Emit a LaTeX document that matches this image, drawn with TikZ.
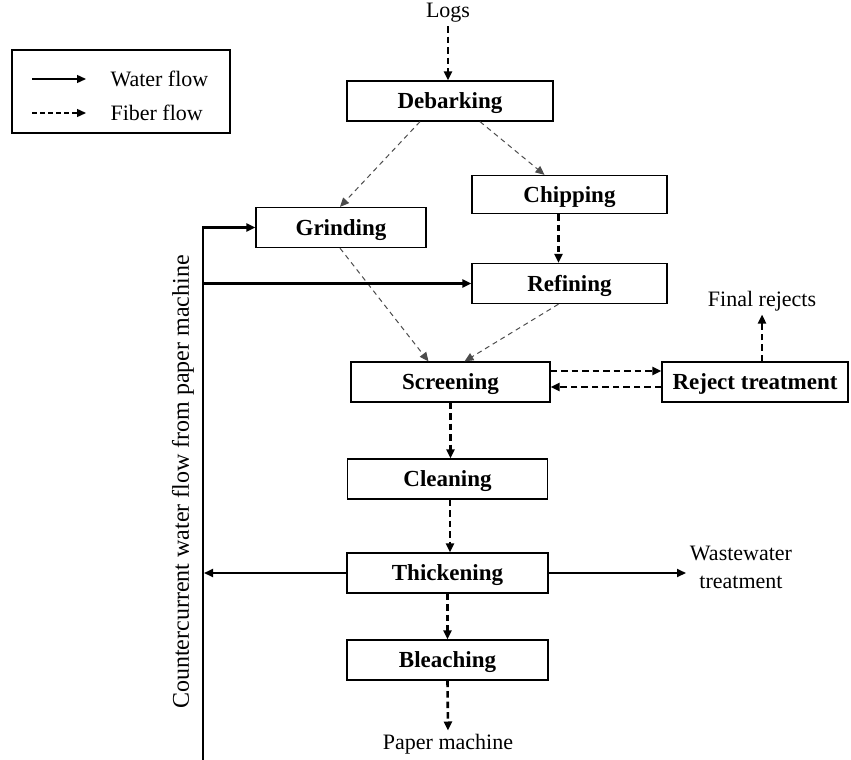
\documentclass[tikz,border=0pt]{standalone}
\usepackage{fontspec}
\setmainfont{Liberation Serif}
\usetikzlibrary{arrows.meta}
\begin{document}
\begin{tikzpicture}[x=1pt,y=-1pt,
  every node/.style={font=\fontsize{22}{25}\selectfont},
  proc/.style={draw,line width=1.3pt,inner sep=0pt,text height=15pt,text depth=0pt,font=\fontsize{23}{26}\selectfont\bfseries},
  water/.style={line width=2.6pt,-{Triangle[length=9pt,width=8pt]}},
  waterthin/.style={line width=1.9pt,-{Triangle[length=9pt,width=8pt]}},
  fiber/.style={line width=2.6pt,dash pattern=on 6.5pt off 4pt,-{Triangle[length=9pt,width=8pt]}},
  thinfiber/.style={line width=1pt,black!70,dash pattern=on 5pt off 4pt,-{Triangle[length=9pt,width=8pt]}},
  lw/.style={line width=1.4pt,-{Triangle[length=9pt,width=8pt]}},
  lf/.style={line width=1.4pt,dash pattern=on 5pt off 3pt,-{Triangle[length=9pt,width=8pt]}}]
\useasboundingbox (0,0) rectangle (851,760);
% legend
\node[draw,line width=1.3pt,minimum width=218pt,minimum height=83pt,inner sep=0pt] (leg) at (121,91.5) {};
\coordinate (l1a) at (32,79); \coordinate (l1b) at (86,79);
\coordinate (l2a) at (32,113); \coordinate (l2b) at (86,113);
\draw[lw] (l1a) -- (l1b);
\draw[lf] (l2a) -- (l2b);
\node[anchor=west] (lt1) at (107,79) {Water flow};
\node[anchor=west] (lt2) at (107,113) {Fiber flow};
% nodes
\node (logs) at (448,13) {Logs};
\node[proc,minimum width=206pt,minimum height=40pt] (deb) at (450,101) {Debarking};
\node[proc,minimum width=195pt,minimum height=38pt] (chip) at (569.5,194.5) {Chipping};
\node[proc,minimum width=170pt,minimum height=40pt] (grind) at (341,227.5) {Grinding};
\node[proc,minimum width=195pt,minimum height=40pt] (ref) at (569.5,283.5) {Refining};
\node[proc,minimum width=199pt,minimum height=40pt] (scr) at (450.5,382) {Screening};
\node[proc,minimum width=186pt,minimum height=40pt] (rej) at (755,382) {Reject treatment};
\node[proc,minimum width=200pt,minimum height=40pt] (clean) at (447.5,479) {Cleaning};
\node[proc,minimum width=201pt,minimum height=40pt] (thick) at (447.5,573) {Thickening};
\node[proc,minimum width=201pt,minimum height=40pt] (bleach) at (447.5,660) {Bleaching};
\node (final) at (762,301) {Final rejects};
\node[align=center,font=\fontsize{22}{28}\selectfont] (waste) at (741,567) {Wastewater\\treatment};
\node (paper) at (448,744) {Paper machine};
\node[rotate=90,font=\fontsize{24}{27}\selectfont] (counter) at (183,482) {Countercurrent water flow from paper machine};
% fiber flows
\draw[fiber] (logs.south) -- (deb.north -| logs.south);
\draw[thinfiber] ([xshift=-30pt]deb.south) -- ([xshift=-1pt]grind.north);
\draw[thinfiber] ([xshift=30pt]deb.south) -- ([xshift=-25pt]chip.north);
\draw[fiber] ([xshift=-11pt]chip.south) -- ([xshift=-11pt]ref.north);
\draw[thinfiber] ([xshift=-1pt]grind.south) -- ([xshift=-22pt]scr.north);
\draw[thinfiber] ([xshift=-11pt]ref.south) -- ([xshift=14pt]scr.north);
\draw[fiber] ([yshift=11pt]scr.east) -- ([yshift=11pt]rej.west);
\draw[fiber] ([yshift=-5pt]rej.west) -- ([yshift=-5pt]scr.east);
\draw[fiber] (final.south |- rej.north) -- (final.south);
\draw[fiber] (scr.south) -- (scr.south |- clean.north);
\draw[fiber] ([xshift=2.5pt]clean.south) -- ([xshift=2.5pt]thick.north);
\draw[fiber] (thick.south) -- (bleach.north);
\draw[fiber] (bleach.south) -- (paper.north);
% water flows
\coordinate (vb) at (203,760);
\coordinate (vr) at (203,283.5);
\coordinate (vt) at (204,573);
\coordinate (ww) at (686,573);
\draw[water] (vb) |- (grind.west);
\draw[water] (vr) -- (ref.west);
\draw[waterthin] (thick.west) -- (vt);
\draw[waterthin] (thick.east) -- (ww);
\end{tikzpicture}
\end{document}
